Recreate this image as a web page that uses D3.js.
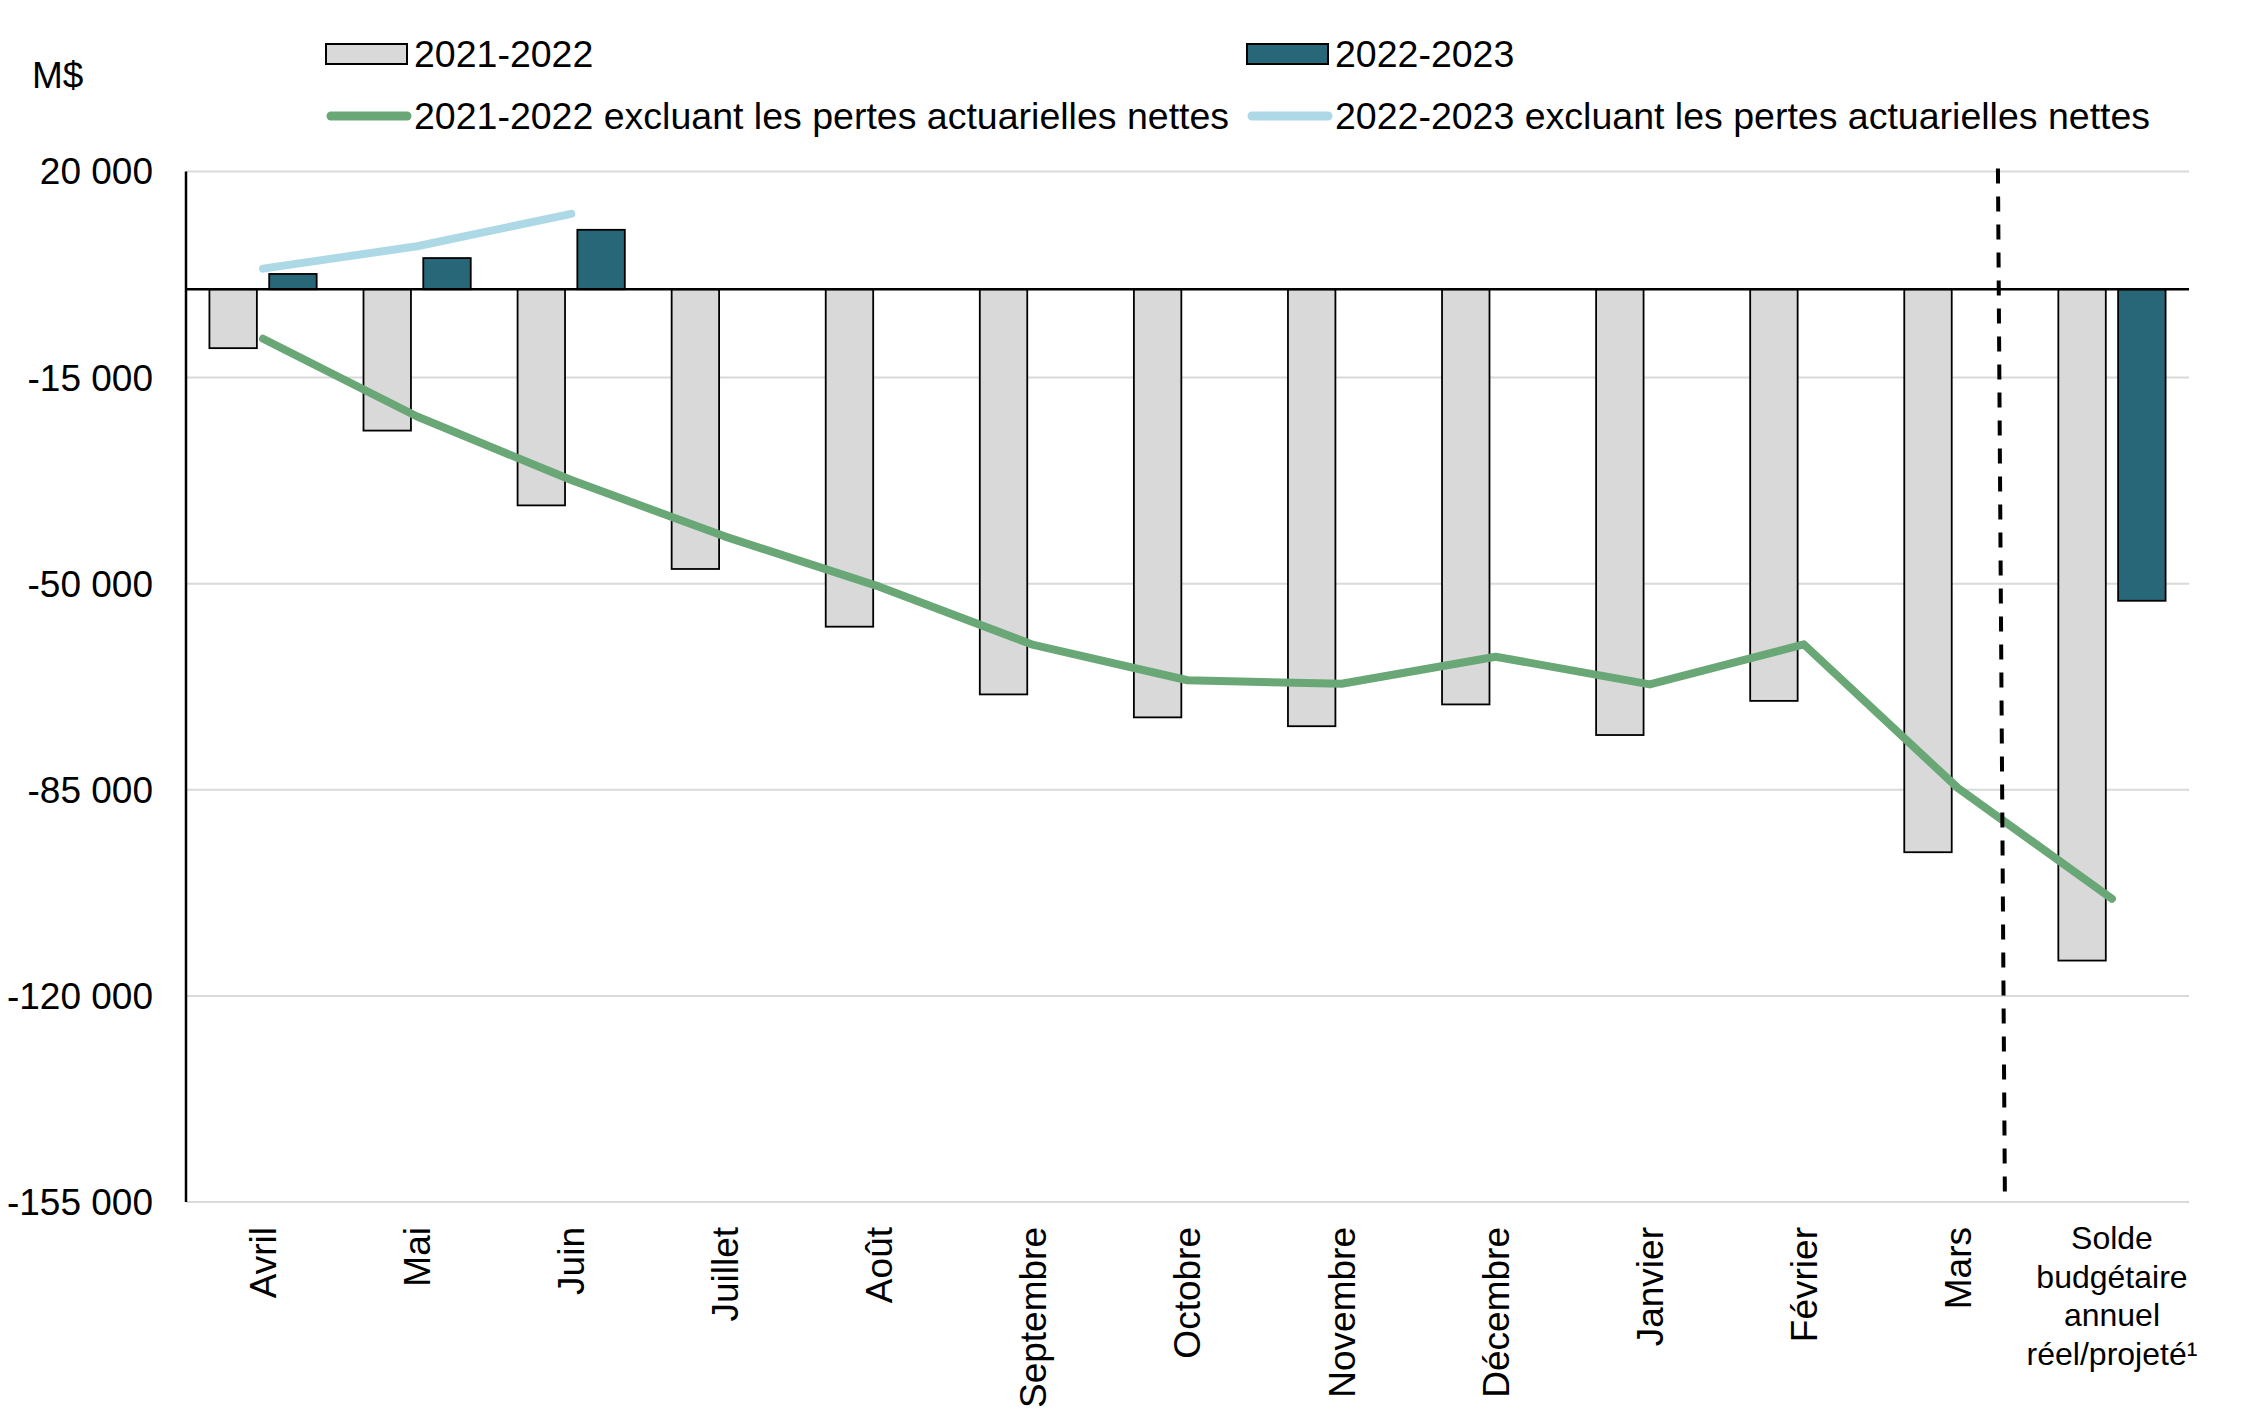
<!DOCTYPE html>
<html>
<head>
<meta charset="utf-8">
<script src="https://cdn.jsdelivr.net/npm/d3@7"></script>
<style>
	body { margin: 0; background: #fff; }
	text { font-family: "Liberation Sans", Arial, sans-serif; fill: #000; }
</style>
</head>
<body>
<script>
var months = ["Avril", "Mai", "Juin", "Juillet", "Août", "Septembre", "Octobre",
	"Novembre", "Décembre", "Janvier", "Février", "Mars", "Solde"];
var soldeLabel = ["Solde", "budgétaire", "annuel", "réel/projeté¹"];
var bal2122 = [-10000, -24000, -36700, -47500, -57300, -68800, -72700, -74200, -70500, -75700, -69900, -95600, -114000];
var bal2223 = [2600, 5300, 10100, null, null, null, null, null, null, null, null, null, -52900];
var excl2122 = [-8400, -21600, -32400, -42000, -50500, -60400, -66400, -67000, -62400, -67100, -60300, -84700, -103500];
var excl2223 = [3500, 7300, 12800];
var yTicks = [20000, -15000, -50000, -85000, -120000, -155000];
var legendNames = ["2021-2022", "2022-2023",
	"2021-2022 excluant les pertes actuarielles nettes", "2022-2023 excluant les pertes actuarielles nettes"];

var W = 2241, H = 1417;
var svg = d3.select("body").append("svg")
	.attr("width", W)
	.attr("height", H);

var plotLeft = 186, plotRight = 2189, plotTop = 171.5, plotBottom = 1202,
	grey = "#d9d9d9", teal = "#286778", green = "#6aa776", lightBlue = "#add8e6",
	fontSize = 37;

function translate(x, y)
{
	return "translate(" + x + "," + y + ")";
}

var x = d3.scaleBand()
	.domain(months)
	.range([plotLeft, plotRight])
	.padding(0);
var bw = x.bandwidth();

var y = d3.scaleLinear()
	.domain([-155000, 20000])
	.range([plotBottom, plotTop]);

var fmt = d3.formatLocale({decimal: ",", thousands: " ", grouping: [3], currency: ["", " $"], minus: "-"}).format(",d");

// grid
svg.append("g").selectAll("line")
	.data(yTicks)
	.enter().append("line")
		.attr("x1", plotLeft).attr("x2", plotRight)
		.attr("y1", function(d){return y(d);})
		.attr("y2", function(d){return y(d);})
		.attr("stroke", grey)
		.attr("stroke-width", 2);

// y tick labels
svg.append("g")
		.attr("font-size", fontSize)
		.attr("text-anchor", "end")
	.selectAll("text")
	.data(yTicks)
	.enter().append("text")
		.attr("x", 153)
		.attr("y", function(d){return y(d);})
		.attr("dy", "0.35em")
		.text(function(d){return fmt(d);});

svg.append("text")
	.attr("x", 32)
	.attr("y", 88)
	.attr("font-size", fontSize)
	.text("M$");

// bars
var barW = bw * 0.308, gap = bw * 0.04;
svg.append("g").selectAll("rect")
	.data(bal2122)
	.enter().append("rect")
		.attr("x", function(d, i){return x(months[i]) + bw / 2 - gap - barW;})
		.attr("width", barW)
		.attr("y", function(d){return y(Math.max(0, d));})
		.attr("height", function(d){return Math.abs(y(d) - y(0));})
		.attr("fill", grey)
		.attr("stroke", "#000")
		.attr("stroke-width", 1.8);

svg.append("g").selectAll("rect")
	.data(bal2223.map(function(d, i){return {v: d, m: months[i]};}).filter(function(d){return d.v !== null;}))
	.enter().append("rect")
		.attr("x", function(d){return x(d.m) + bw / 2 + gap;})
		.attr("width", barW)
		.attr("y", function(d){return y(Math.max(0, d.v));})
		.attr("height", function(d){return Math.abs(y(d.v) - y(0));})
		.attr("fill", teal)
		.attr("stroke", "#000")
		.attr("stroke-width", 1.8);

// axes lines
svg.append("line")
	.attr("x1", plotLeft).attr("x2", plotRight)
	.attr("y1", y(0)).attr("y2", y(0))
	.attr("stroke", "#000")
	.attr("stroke-width", 2.5);
svg.append("line")
	.attr("x1", plotLeft).attr("x2", plotLeft)
	.attr("y1", plotTop).attr("y2", plotBottom)
	.attr("stroke", "#000")
	.attr("stroke-width", 2.5);

// lines
var line = d3.line()
	.x(function(d, i){return x(months[i]) + bw / 2;})
	.y(function(d){return y(d);});

svg.append("path")
	.attr("d", line(excl2122))
	.attr("fill", "none")
	.attr("stroke", green)
	.attr("stroke-width", 8)
	.attr("stroke-linecap", "round")
	.attr("stroke-linejoin", "round");

svg.append("path")
	.attr("d", line(excl2223))
	.attr("fill", "none")
	.attr("stroke", lightBlue)
	.attr("stroke-width", 8)
	.attr("stroke-linecap", "round")
	.attr("stroke-linejoin", "round");

// dashed separator
svg.append("line")
	.attr("x1", x("Mars") + bw * 0.76).attr("x2", x("Mars") + bw * 0.805)
	.attr("y1", y(20000) - 3).attr("y2", y(-153500))
	.attr("stroke", "#000")
	.attr("stroke-width", 4)
	.attr("stroke-dasharray", "15,13");

// x labels
svg.append("g")
		.attr("font-size", fontSize)
		.attr("text-anchor", "end")
	.selectAll("text")
	.data(months.slice(0, 12))
	.enter().append("text")
		.attr("transform", function(d){return translate(x(d) + bw / 2, 1227) + " rotate(-90)";})
		.attr("dy", "0.35em")
		.text(function(d){return d;});

svg.append("g")
		.attr("font-size", 32)
		.attr("text-anchor", "middle")
	.selectAll("text")
	.data(soldeLabel)
	.enter().append("text")
		.attr("x", x("Solde") + bw / 2)
		.attr("y", function(d, i){return 1249 + i * 38.5;})
		.text(function(d){return d;});

// legend
var legend = svg.append("g").attr("font-size", 37.5);
var legendPos = [[326, 54], [1247, 54], [326, 116], [1247, 116]];

legend.selectAll("rect")
	.data([0, 1])
	.enter().append("rect")
		.attr("x", function(d){return legendPos[d][0];})
		.attr("y", function(d){return legendPos[d][1] - 10;})
		.attr("width", 81)
		.attr("height", 20)
		.attr("fill", function(d){return d === 0 ? grey : teal;})
		.attr("stroke", "#000")
		.attr("stroke-width", 2);

legend.selectAll("line")
	.data([2, 3])
	.enter().append("line")
		.attr("x1", function(d){return legendPos[d][0] + 5;})
		.attr("x2", function(d){return legendPos[d][0] + 81;})
		.attr("y1", function(d){return legendPos[d][1];})
		.attr("y2", function(d){return legendPos[d][1];})
		.attr("stroke", function(d){return d === 2 ? green : lightBlue;})
		.attr("stroke-width", 9)
		.attr("stroke-linecap", "round");

legend.selectAll("text")
	.data([0, 1, 2, 3])
	.enter().append("text")
		.attr("x", function(d){return legendPos[d][0] + 88;})
		.attr("y", function(d){return legendPos[d][1] + 13;})
		.text(function(d){return legendNames[d];});
</script>
</body>
</html>
